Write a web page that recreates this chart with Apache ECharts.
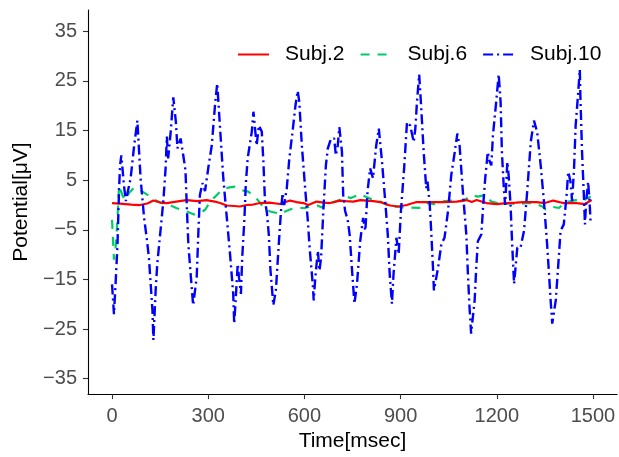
<!DOCTYPE html>
<html>
<head>
<meta charset="utf-8">
<script src="https://cdn.jsdelivr.net/npm/echarts@6/dist/echarts.min.js"></script>
<style>
html,body{margin:0;padding:0;background:#fff;}
#chart{width:619px;height:457px;}
</style>
</head>
<body>
<div id="chart"></div>
<script>
// ---- data ----
var seriesNames = ['Subj.2', 'Subj.6', 'Subj.10'];
var xTicks = [0, 300, 600, 900, 1200, 1500];
var yTicks = [-35, -25, -15, -5, 5, 15, 25, 35];

var subj2Time = [0, 25, 60, 87, 110, 129, 150, 171, 200, 233, 265, 295, 320, 337, 358, 380, 399, 420, 440, 461, 490, 524, 555, 575, 597, 612, 638, 660, 680, 711, 730, 752, 775, 794, 815, 836, 867, 893, 919, 950, 992, 1033, 1075, 1106, 1122, 1137, 1168, 1200, 1231, 1260, 1283, 1324, 1350, 1376, 1407, 1449, 1475, 1496];
var subj2Val  = [0.4, 0.3, 0.1, 0.0, 0.3, 0.9, 0.5, 0.4, 0.7, 1.0, 0.8, 1.0, 0.7, 0.4, -0.1, -0.2, -0.3, 0.0, 0.1, 0.4, 0.5, 0.2, 0.9, 0.6, 0.4, 0.0, 0.7, 0.5, 0.4, 0.9, 0.8, 0.7, 1.0, 0.9, 0.8, 0.6, -0.1, -0.3, 0.0, 0.6, 0.6, 0.6, 0.7, 1.0, 0.6, 1.0, 0.4, 0.2, 0.4, 0.5, 0.6, 0.6, 0.4, 0.9, 0.4, 0.4, 0.2, 1.0];

var subj6Time = [0, 3, 6, 12, 17, 22, 32, 40, 53, 67, 75, 95, 112, 133, 155, 180, 200, 229, 256, 276, 291, 306, 322, 342, 362, 383, 404, 425, 446, 467, 482, 493, 514, 524, 540, 555, 571, 602, 618, 640, 655, 662, 683, 709, 730, 745, 774, 790, 816, 837, 858, 873, 889, 915, 930, 967, 982, 1006, 1027, 1058, 1079, 1100, 1120, 1141, 1162, 1183, 1204, 1224, 1245, 1264, 1290, 1316, 1342, 1352, 1368, 1394, 1404, 1425, 1446, 1466, 1482, 1493];
var subj6Val  = [-3.0, -7.0, -11.0, -8.0, -2.6, 4.0, 2.0, 1.0, 2.4, 3.4, 3.0, 2.7, 2.0, 1.0, 0.4, 0.0, -0.6, -1.2, -1.9, -1.6, -0.9, 0.7, 1.7, 3.0, 3.5, 3.7, 3.0, 2.7, 1.7, 0.0, -0.9, -1.3, -1.6, -1.9, -1.3, -0.9, -0.6, -0.6, -0.3, -0.1, -0.5, 0.0, 0.4, 1.0, 1.7, 1.4, 2.2, 1.7, 1.0, 0.7, 0.0, -0.6, -0.3, -0.6, -0.5, -0.6, 0.4, 0.2, 0.7, 0.9, 0.7, 1.0, 2.0, 1.7, 2.0, 0.7, 0.4, 0.2, 0.4, 0.0, 0.4, 0.4, -0.3, -0.9, -0.3, -0.6, 0.0, 0.7, 1.0, 0.7, 1.4, 1.7];

var subj10Time = [0, 6, 12, 17, 22, 25, 29, 37, 43, 58, 69, 79, 89, 100, 108, 115, 126, 129, 136, 141, 152, 160, 167, 171, 175, 183, 191, 199, 204, 214, 225, 229, 233, 238, 246, 253, 264, 269, 274, 282, 290, 300, 311, 321, 328, 337, 347, 358, 368, 378, 381, 386, 392, 396, 402, 406, 413, 417, 423, 436, 441, 451, 458, 467, 472, 477, 483, 489, 494, 503, 511, 520, 527, 532, 537, 545, 553, 563, 572, 579, 584, 592, 603, 610, 617, 626, 629, 634, 642, 647, 652, 659, 667, 673, 683, 693, 698, 704, 709, 717, 721, 727, 735, 741, 748, 756, 764, 774, 783, 790, 797, 805, 814, 824, 832, 842, 852, 860, 866, 873, 878, 887, 894, 901, 911, 920, 930, 941, 946, 951, 958, 964, 972, 980, 984, 991, 996, 1001, 1004, 1017, 1027, 1037, 1048, 1058, 1069, 1077, 1084, 1095, 1105, 1110, 1115, 1120, 1131, 1136, 1141, 1152, 1157, 1164, 1172, 1178, 1183, 1188, 1198, 1206, 1212, 1216, 1222, 1226, 1233, 1237, 1243, 1248, 1254, 1264, 1274, 1285, 1295, 1306, 1316, 1326, 1337, 1347, 1357, 1363, 1368, 1373, 1384, 1392, 1399, 1409, 1417, 1423, 1430, 1435, 1441, 1446, 1454, 1459, 1461, 1466, 1472, 1475, 1479, 1485, 1490, 1493];
var subj10Val  = [-16.0, -22.0, -14.6, -7.9, 3.4, 8.0, 10.0, 4.0, 0.8, 5.4, 12.0, 17.0, 5.4, -2.6, -6.6, -10.6, -21.2, -27.2, -17.2, -11.9, -4.6, 0.8, 7.4, 13.8, 9.4, 14.8, 21.7, 16.8, 11.4, 13.4, 8.8, 7.0, 0.0, -7.9, -14.6, -20.2, -14.6, -5.9, 2.0, 4.4, 2.8, 7.4, 12.0, 20.0, 24.5, 15.4, 5.4, -2.6, -9.9, -17.9, -23.9, -18.6, -11.9, -14.6, -17.9, -10.6, -2.6, 4.0, 9.4, 14.8, 18.8, 12.0, 16.0, 14.8, 8.8, 0.8, -1.5, -6.0, -13.0, -20.2, -17.2, -7.9, -1.2, 2.4, 0.0, 3.4, 9.4, 14.8, 20.0, 23.0, 20.8, 12.0, 2.8, -2.6, -9.2, -15.9, -19.2, -14.6, -9.2, -13.2, -10.6, -1.2, 8.0, 11.4, 13.4, 13.4, 10.0, 12.0, 15.7, 10.8, 2.0, -1.2, -3.0, -5.9, -12.6, -19.9, -15.9, -7.3, -2.6, -5.2, 2.8, 7.4, 5.4, 12.0, 15.4, 8.8, 0.8, -5.9, -13.9, -19.9, -13.9, -6.6, -9.9, -1.2, 7.4, 16.7, 16.0, 12.7, 15.4, 20.7, 26.3, 20.0, 10.7, 3.4, 4.7, 0.0, -5.9, -12.6, -17.2, -12.6, -7.9, -6.6, -1.2, 6.0, 10.7, 14.4, 12.0, 2.0, -5.9, -13.9, -20.6, -25.9, -19.2, -12.6, -7.3, -5.9, -0.6, 5.4, 10.7, 8.7, 8.0, 14.0, 20.7, 26.3, 20.7, 10.7, 3.4, 0.0, 8.7, 6.0, 0.0, -7.9, -15.9, -8.6, -8.6, -5.2, 2.8, 12.7, 17.0, 14.7, 8.0, 0.8, -7.9, -13.9, -19.2, -23.9, -19.2, -11.9, -5.2, -3.9, 1.4, 6.7, 4.7, 0.8, 7.4, 16.0, 22.7, 27.3, 21.4, 10.7, 1.4, -3.9, 0.8, 4.7, 0.0, -3.9];

function pairs(t, v) { return t.map(function (x, i) { return [x, v[i]]; }); }
function fmt(v) { return String(v).replace('-', '\u2212'); }

var FONT = '"Liberation Sans", Arial, Helvetica, sans-serif';
var chart = echarts.init(document.getElementById('chart'), null, {renderer: 'canvas'});

var option = {
  animation: false,
  backgroundColor: '#ffffff',
  textStyle: {fontFamily: FONT},
  grid: {left: 88, right: 2, top: 10, bottom: 59, containLabel: false},
  legend: {
    data: seriesNames,
    left: 232,
    top: 39,
    itemWidth: 31,
    itemHeight: 14,
    itemGap: 15,
    itemStyle: {color: 'rgba(0,0,0,0)', borderColor: 'rgba(0,0,0,0)', borderWidth: 0, opacity: 0},
    lineStyle: {width: 2},
    textStyle: {fontSize: 21, color: '#000000', fontFamily: FONT, padding: [0, 0, 0, 11]}
  },
  xAxis: {
    type: 'value',
    min: -75,
    max: 1575,
    name: 'Time[msec]',
    nameLocation: 'middle',
    nameGap: 33,
    nameTextStyle: {fontSize: 21, color: '#000000', fontFamily: FONT},
    axisLine: {show: true, onZero: false, lineStyle: {color: '#000000', width: 1.1}},
    axisTick: {show: true, length: 5, customValues: xTicks, lineStyle: {color: '#333333', width: 1.1}},
    axisLabel: {customValues: xTicks, formatter: fmt, fontSize: 20, color: '#4D4D4D', margin: 12, fontFamily: FONT},
    splitLine: {show: false}
  },
  yAxis: {
    type: 'value',
    min: -38.1,
    max: 39.3,
    name: 'Potential[\u03BCV]',
    nameLocation: 'middle',
    nameGap: 46,
    nameTextStyle: {fontSize: 21, color: '#000000', fontFamily: FONT},
    axisLine: {show: true, onZero: false, lineStyle: {color: '#000000', width: 1.1}},
    axisTick: {show: true, length: 5, customValues: yTicks, lineStyle: {color: '#333333', width: 1.1}},
    axisLabel: {customValues: yTicks, formatter: fmt, fontSize: 20, color: '#4D4D4D', margin: 11, fontFamily: FONT},
    splitLine: {show: false}
  },
  series: [
    {
      name: seriesNames[0], type: 'line', data: pairs(subj2Time, subj2Val),
      showSymbol: false, symbol: 'none', smooth: false,
      lineStyle: {color: '#FF0000', width: 2.2, type: 'solid'},
      itemStyle: {color: '#FF0000'}, z: 3
    },
    {
      name: seriesNames[1], type: 'line', data: pairs(subj6Time, subj6Val),
      showSymbol: false, symbol: 'none', smooth: false,
      lineStyle: {color: '#00CC66', width: 2.2, type: [9, 8]},
      itemStyle: {color: '#00CC66'}, z: 2
    },
    {
      name: seriesNames[2], type: 'line', data: pairs(subj10Time, subj10Val),
      showSymbol: false, symbol: 'none', smooth: false,
      lineStyle: {color: '#0000FF', width: 2.4, type: [10, 4, 2, 4]},
      itemStyle: {color: '#0000FF'}, z: 4
    }
  ]
};
chart.setOption(option);
</script>
</body>
</html>
